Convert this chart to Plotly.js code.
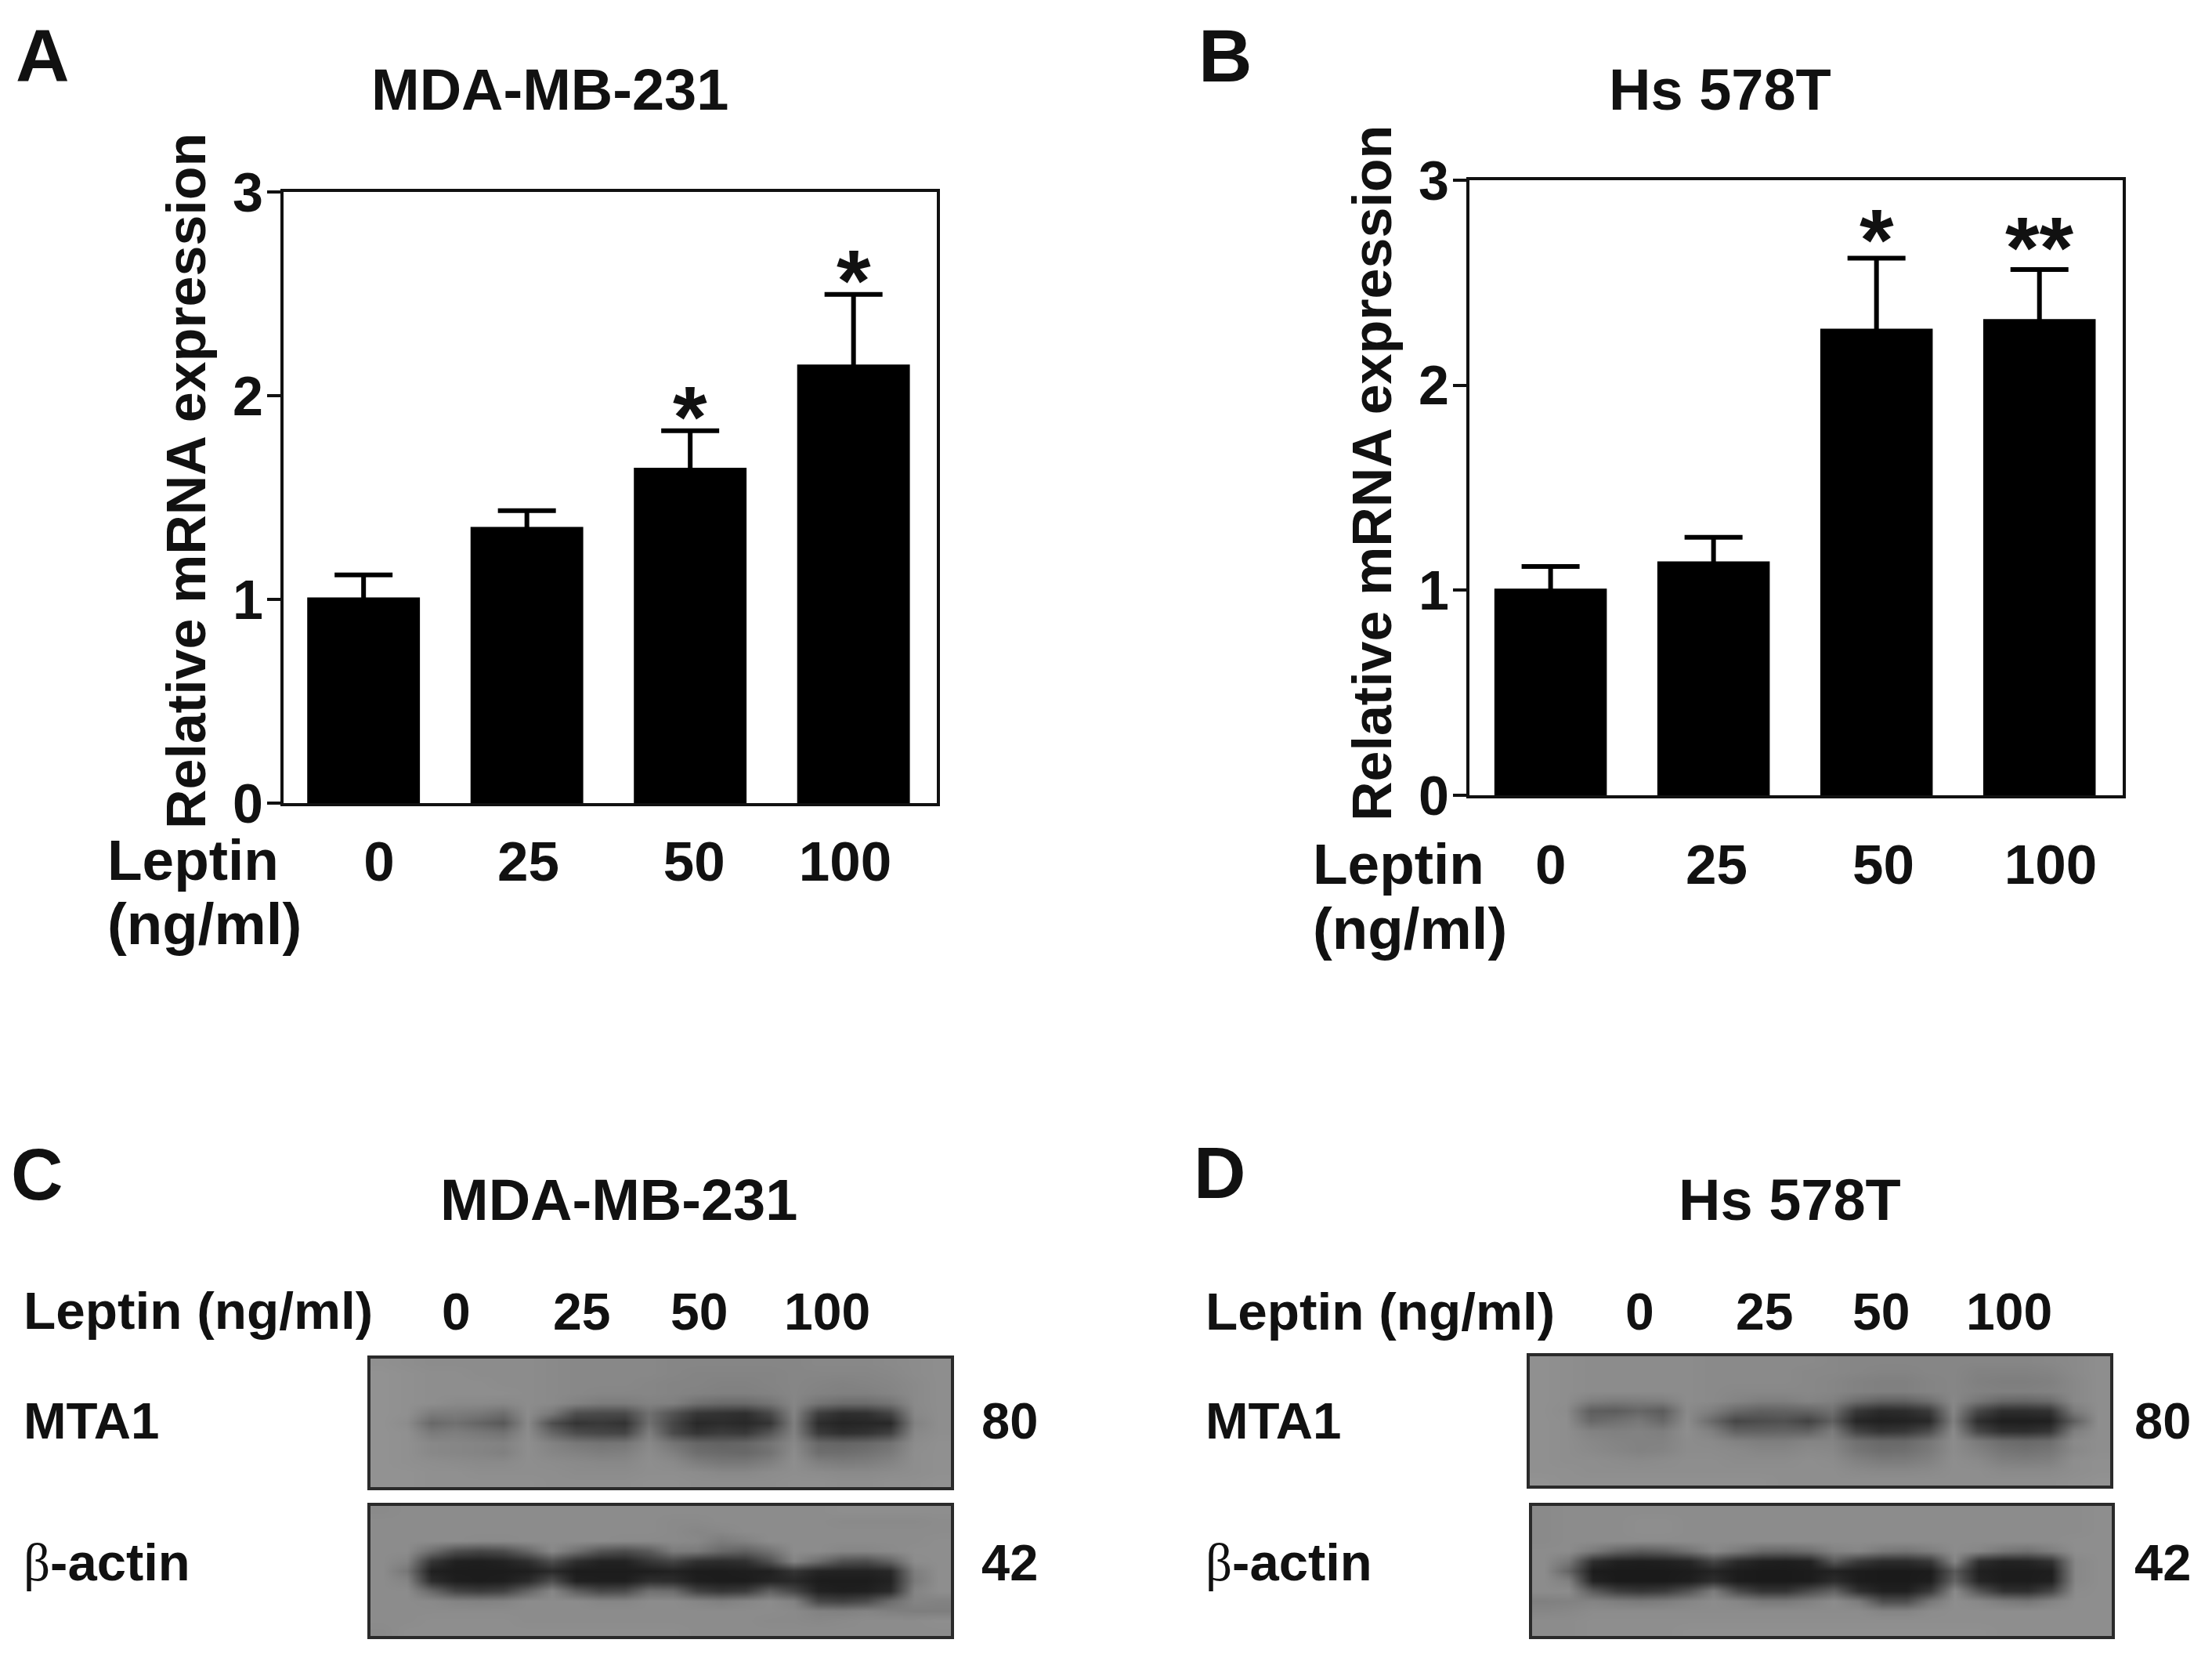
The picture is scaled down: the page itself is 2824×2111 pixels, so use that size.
<!DOCTYPE html>
<html><head><meta charset="utf-8">
<script src="https://cdn.plot.ly/plotly-3.0.1.min.js"></script>
<style>html,body{margin:0;padding:0;background:#fff}</style></head>
<body><div id="chart" style="width:2824px;height:2111px"></div>
<script>
// ---------- data ----------
const barCategories = [0, 1, 2, 3];
const doseLabels = ['0', '25', '50', '100'];
const valuesA = [1.01, 1.356, 1.646, 2.153];
const errTopA = [1.12, 1.436, 1.828, 2.497];
const valuesB = [1.008, 1.141, 2.276, 2.323];
const errTopB = [1.116, 1.258, 2.62, 2.564];
const starsA = ['', '', '*', '*'];
const starsB = ['', '', '*', '**'];
const tickPosA = [0.095, 1.009, 2.024, 2.949];
const tickPosB = [0.001, 1.019, 2.042, 3.069];
const yTicks = [0, 1, 2, 3];

const blotC_MTA1 = [
[144,142,140,140,140,140,140,138,136,136,136,136,134,134,134,134,134,134,136,136,136,138,140,142],
[146,144,142,142,140,140,140,138,136,136,136,136,134,132,132,132,132,134,134,134,134,136,140,142],
[146,144,142,142,142,140,140,138,136,136,136,134,132,132,130,130,132,134,132,130,132,134,138,142],
[146,144,142,142,142,142,140,138,136,134,134,134,132,130,128,128,130,134,130,128,128,132,138,142],
[146,144,142,138,138,136,140,138,130,124,124,130,128,112,106,106,116,134,116,108,108,116,138,142],
[146,144,124,124,120,110,140,120,78,74,74,112,82,54,50,46,72,132,62,46,48,68,136,142],
[146,140,104,112,100,88,138,78,52,56,50,112,70,40,44,40,52,128,44,36,38,40,130,142],
[146,144,122,126,120,114,140,102,76,70,68,126,74,52,60,56,84,130,58,46,50,64,136,142],
[146,144,136,134,132,130,142,130,120,116,118,136,116,102,98,102,116,136,104,100,104,114,140,144],
[146,144,136,134,132,128,142,134,130,126,128,140,128,110,106,104,114,140,110,110,114,122,142,144],
[146,144,142,140,138,138,142,140,138,136,136,142,138,126,120,120,128,142,128,124,126,132,142,144],
[146,146,144,144,142,142,142,142,140,140,140,142,142,140,136,136,140,142,140,138,138,140,142,144],
[146,146,144,144,144,144,144,142,142,142,142,144,144,142,142,142,142,144,144,142,142,144,144,146]];

const blotC_actin = [
[138,140,140,140,140,140,140,140,140,140,140,140,140,140,140,140,140,140,140,142,142,142,142,142],
[140,140,140,140,140,140,140,140,140,140,140,140,138,138,140,140,140,140,140,138,138,138,138,140],
[140,140,140,140,140,140,140,140,140,140,140,140,138,134,136,140,140,140,140,140,140,140,140,140],
[140,140,140,140,138,138,140,140,140,140,138,138,138,136,124,130,140,140,140,140,140,140,140,142],
[140,140,110,78,70,76,102,136,112,84,76,90,124,122,104,96,114,140,140,134,134,138,142,142],
[140,132,54,32,30,34,46,78,46,34,34,54,68,48,44,48,80,132,108,80,76,98,140,142],
[140,118,32,28,28,28,30,42,28,28,28,30,34,28,28,30,32,52,36,34,34,40,126,142],
[140,132,44,30,28,30,42,78,32,30,30,46,44,30,28,28,36,40,28,28,28,34,122,142],
[140,140,104,68,60,66,100,134,94,72,76,112,108,66,54,60,96,70,34,30,32,42,132,142],
[140,140,138,132,130,132,140,140,140,134,134,140,140,134,128,134,140,130,72,66,76,108,132,130],
[140,140,140,140,140,140,140,140,140,140,140,140,140,140,140,140,140,138,130,128,132,128,126,126],
[140,140,142,142,142,142,140,140,140,140,140,140,140,140,140,140,138,138,136,138,140,140,140,142],
[138,142,142,142,142,142,142,142,142,142,142,142,142,140,140,140,140,140,140,140,140,140,140,140]];

const blotD_MTA1 = [
[144,142,140,140,140,140,140,138,138,138,138,138,136,134,134,134,134,134,134,134,134,136,138,142],
[144,142,140,140,140,140,140,138,138,138,138,136,136,134,132,132,134,134,130,130,130,132,138,142],
[144,142,140,140,140,140,140,138,138,138,138,136,134,130,128,128,132,134,128,126,126,128,136,142],
[144,142,140,140,140,140,140,138,136,136,136,136,134,130,128,128,132,134,130,128,128,130,136,142],
[144,142,126,122,124,126,140,138,132,126,126,132,128,108,96,96,110,136,118,102,100,106,136,142],
[144,140,94,92,102,92,138,126,104,96,98,100,112,56,42,44,58,134,72,46,46,50,122,142],
[144,142,104,112,120,104,140,106,70,76,80,66,96,38,32,34,40,128,46,30,30,32,94,142],
[144,142,130,128,130,126,142,128,98,98,100,98,124,68,52,56,76,138,72,48,46,54,126,142],
[144,142,136,132,130,130,140,138,130,126,126,132,132,112,104,104,118,140,122,108,104,108,138,142],
[144,142,138,134,130,132,140,140,138,134,134,138,136,118,110,112,122,140,130,118,114,118,136,142],
[144,142,142,140,138,140,142,142,140,140,140,142,140,130,124,124,130,142,138,128,126,128,142,144],
[144,144,142,142,142,142,142,142,142,142,142,142,142,138,136,136,138,142,142,138,138,138,142,144],
[146,144,144,144,144,144,144,144,144,144,142,142,142,142,142,142,142,142,142,142,142,142,144,146]];

const blotD_actin = [
[138,140,140,140,140,140,140,140,140,140,140,140,140,140,140,140,140,140,140,140,140,140,140,142],
[138,140,140,140,142,142,140,140,140,140,140,140,140,140,140,140,140,140,140,140,140,140,140,142],
[138,140,140,140,142,142,140,140,140,140,140,140,140,140,140,140,140,140,140,140,140,140,140,142],
[138,140,140,140,140,140,140,140,140,140,140,140,140,140,140,140,140,140,140,140,140,140,142,142],
[140,140,122,100,90,96,114,136,122,104,102,110,130,134,120,116,126,140,134,118,112,126,142,142],
[140,120,46,32,30,32,38,70,42,32,30,34,88,58,44,44,56,134,46,34,36,50,136,142],
[140,100,28,26,26,26,28,36,28,26,26,28,34,28,26,26,28,90,32,28,28,30,136,142],
[140,128,34,26,26,26,30,46,28,26,26,28,44,28,26,26,30,100,36,28,28,32,136,142],
[140,140,90,62,54,60,84,124,74,52,52,76,98,48,32,32,58,138,84,48,46,70,140,142],
[128,130,132,126,122,126,134,140,134,122,122,130,140,124,78,78,120,142,136,124,118,132,142,142],
[134,136,140,140,140,140,140,140,140,140,140,140,140,140,132,132,140,142,142,142,142,142,142,142],
[140,140,142,142,142,142,142,142,142,142,142,142,142,142,142,142,142,142,142,142,142,142,142,142],
[140,140,142,142,142,142,144,144,144,144,144,144,144,144,144,144,144,144,144,142,142,142,142,142]];

// ---------- page layout (pixels) ----------
const W = 2824, H = 2111;
const FONT = 'Liberation Sans';
const fx = p => p / W, fy = p => 1 - p / H;
const dom = (a, b) => [fx(a), fx(b)];
const domY = (top, bot) => [fy(bot), fy(top)];
const INK = '#111111';

function label(text, x, base, size, anchor) {
  return {text, xref:'paper', yref:'paper', x:fx(x), y:fy(base - 0.35*size),
    xanchor:anchor||'left', yanchor:'middle', showarrow:false,
    font:{family:FONT, size, color:INK, weight:700}};
}
function vertical(text, x, yc, size) {
  return {text, xref:'paper', yref:'paper', x:fx(x), y:fy(yc), textangle:-90,
    xanchor:'center', yanchor:'middle', showarrow:false,
    font:{family:FONT, size, color:INK, weight:700}};
}
function stars(labels, tops, xa, ya, shifts) {
  return labels.map((s,i)=> s ? ({text:s, xref:xa, yref:ya, x:barCategories[i], y:tops[i],
    xanchor:'center', yanchor:'bottom', yshift:shifts[s], showarrow:false,
    font:{family:FONT, size:112, color:INK, weight:700}}) : null).filter(Boolean);
}
function barTrace(vals, tops, xa, ya) {
  return {type:'bar', x:barCategories, y:vals, xaxis:xa, yaxis:ya, width:0.69,
    marker:{color:'#000000', line:{width:0}},
    error_y:{type:'data', symmetric:false, array:tops.map((t,i)=>t-vals[i]),
      arrayminus:vals.map(()=>0.03), color:'#000000', thickness:6, width:37},
    hoverinfo:'x+y', showlegend:false};
}
function blotTrace(z, xa, ya) {
  return {type:'heatmap', z, xaxis:xa, yaxis:ya, zsmooth:'best', zmin:0, zmax:255,
    colorscale:[[0,'#000000'],[1,'#ffffff']], showscale:false, hoverinfo:'skip'};
}
function barX(domain, range, ticks, anchor, standoff) {
  return {domain, range, anchor, tickmode:'array', tickvals:ticks, ticktext:doseLabels,
    ticks:'', ticklabelstandoff:standoff, tickfont:{family:FONT,size:71,color:INK,weight:700},
    showline:true, mirror:true, linewidth:4, linecolor:'#111111', showgrid:false, zeroline:false};
}
function barY(domain, anchor) {
  return {domain, range:[0,3], anchor, tickmode:'array', tickvals:yTicks,
    ticks:'outside', ticklen:17, tickwidth:4, tickcolor:'#111111', ticklabelstandoff:-9,
    tickfont:{family:FONT,size:70,color:INK,weight:700},
    showline:true, mirror:true, linewidth:4, linecolor:'#111111', showgrid:false, zeroline:false};
}
function blotAx(domain, range, anchor) {
  return {domain, range, anchor, showticklabels:false, ticks:'', showgrid:false, zeroline:false,
    showline:true, mirror:true, linewidth:4, linecolor:'#2a2a2a'};
}
const beta = '<span style="font-family:\'Liberation Serif\';font-weight:400">β</span>-actin';
const BX = [-0.5, 23.5], BY = [12.5, -0.5];

const data = [
  barTrace(valuesA, errTopA, 'x', 'y'),
  barTrace(valuesB, errTopB, 'x2', 'y2'),
  blotTrace(blotC_MTA1, 'x3', 'y3'),
  blotTrace(blotC_actin, 'x4', 'y4'),
  blotTrace(blotD_MTA1, 'x5', 'y5'),
  blotTrace(blotD_actin, 'x6', 'y6')
];

const annotations = [
  label('A', 18, 104, 95), label('B', 1528, 104, 95),
  label('C', 12, 1531, 92), label('D', 1522, 1529, 92),
  label('MDA-MB-231', 702, 140, 74, 'center'), label('Hs 578T', 2196, 140, 74, 'center'),
  label('MDA-MB-231', 790, 1557, 74, 'center'), label('Hs 578T', 2285, 1557, 74, 'center'),
  vertical('Relative mRNA expression', 238, 614, 70),
  vertical('Relative mRNA expression', 1752, 604, 70),
  label('Leptin', 135, 1123, 73), label('(ng/ml)', 135, 1206, 74.5),
  label('Leptin', 1674, 1128, 73), label('(ng/ml)', 1674, 1212, 74.5),
  label('Leptin (ng/ml)', 28, 1696, 67.5), label('Leptin (ng/ml)', 1537, 1697, 67.5),
  ...[582,742,892,1056].map((x,i)=>label(doseLabels[i], x, 1697, 66, 'center')),
  ...[2093,2252,2401,2565].map((x,i)=>label(doseLabels[i], x, 1697, 66, 'center')),
  label('MTA1', 28, 1836, 65.5), label('MTA1', 1537, 1836, 65.5),
  label(beta, 28, 2017, 67), label(beta, 1537, 2017, 67),
  label('80', 1289, 1836, 65, 'center'), label('42', 1289, 2017, 65, 'center'),
  label('80', 2761, 1836, 65, 'center'), label('42', 2761, 2017, 65, 'center'),
  ...stars(starsA, errTopA, 'x', 'y', {'*':-47}),
  ...stars(starsB, errTopB, 'x2', 'y2', {'*':-42, '**':-37})
];

const layout = {
  width:W, height:H, margin:{l:0,r:0,t:0,b:0,pad:0},
  paper_bgcolor:'#ffffff', plot_bgcolor:'#ffffff', showlegend:false,
  font:{family:FONT, color:INK},
  xaxis:barX(dom(362,1196), [-0.49,3.51], tickPosA, 'y', 10),
  yaxis:barY(domY(245,1025), 'x'),
  xaxis2:barX(dom(1876,2710), [-0.498,3.511], tickPosB, 'y2', 24),
  yaxis2:barY(domY(230,1015), 'x2'),
  xaxis3:blotAx(dom(473,1214), BX, 'y3'), yaxis3:blotAx(domY(1734,1898), BY, 'x3'),
  xaxis4:blotAx(dom(473,1214), BX, 'y4'), yaxis4:blotAx(domY(1922,2088), BY, 'x4'),
  xaxis5:blotAx(dom(1953,2694), BX, 'y5'), yaxis5:blotAx(domY(1731,1896), BY, 'x5'),
  xaxis6:blotAx(dom(1956,2696), BX, 'y6'), yaxis6:blotAx(domY(1922,2088), BY, 'x6'),
  annotations
};
Plotly.newPlot('chart', data, layout, {displayModeBar:false, responsive:false});
</script></body></html>
